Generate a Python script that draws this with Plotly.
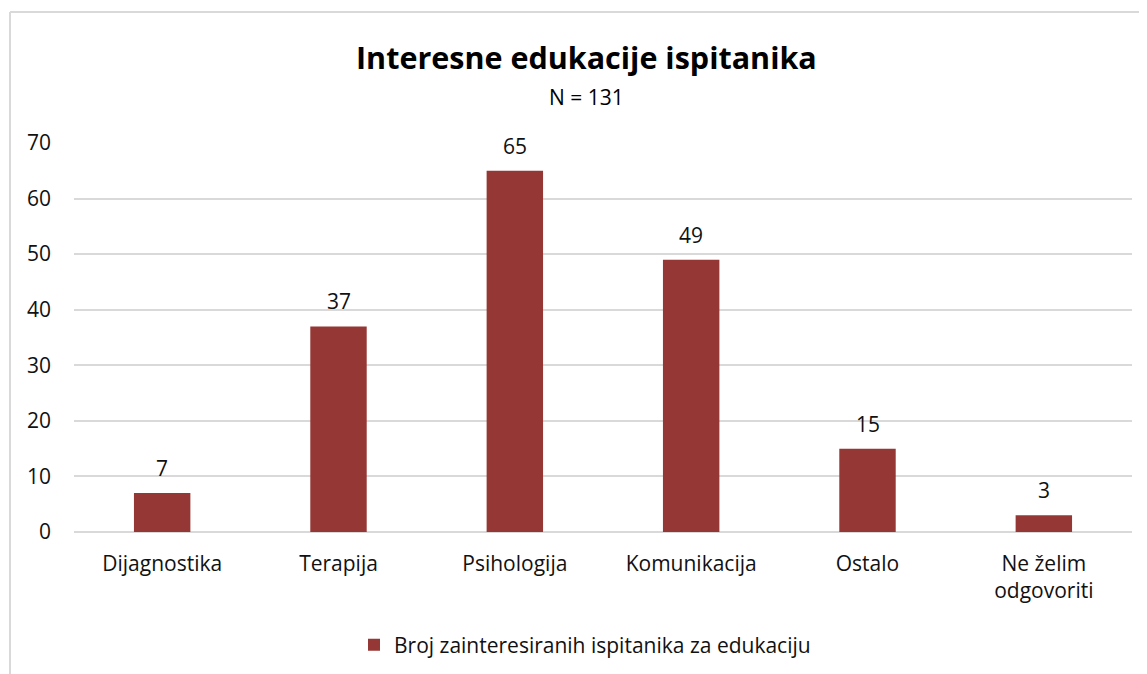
import plotly.graph_objects as go

categories = ["Dijagnostika", "Terapija", "Psihologija", "Komunikacija", "Ostalo", "Ne želim<br>odgovoriti"]
values = [7, 37, 65, 49, 15, 3]
series_name = "Broj zainteresiranih ispitanika za edukaciju"
title_text = "Interesne edukacije ispitanika"
subtitle_text = "N = 131"
y_ticks = [0, 10, 20, 30, 40, 50, 60, 70]

W, H = 1147, 674
OFF = 8  # page body margin offset
# target plot area in page pixels: x 74..1132, y 143..532
L = 74 - OFF
T = 143 - OFF
R = (W + OFF) - 1132
B = (H + OFF) - 532
pw, ph = W - L - R, H - T - B

def px_x(px):
    return (px - OFF - L) / pw

def px_y(py):
    return (H - B - (py - OFF)) / ph

FONT = "Open Sans"
FS = 21
bar_color = "#953735"

fig = go.Figure()
fig.add_trace(go.Bar(
    x=categories, y=values, name=series_name,
    marker=dict(color=bar_color, line=dict(width=0)),
    showlegend=True,
))

for c, v in zip(categories, values):
    fig.add_annotation(x=c, y=v, text=str(v), showarrow=False, xanchor="center",
                       yanchor="bottom", yshift=9,
                       font=dict(family=FONT, size=FS, color="#111111"))

fig.update_layout(
    width=W, height=H,
    margin=dict(l=L, r=R, t=T, b=B),
    paper_bgcolor="white", plot_bgcolor="white",
    bargap=0.68,
    font=dict(family=FONT, size=FS, color="#111111"),
    showlegend=True,
    legend=dict(orientation="h", x=px_x(585), xanchor="center", y=px_y(645), yanchor="middle",
                font=dict(family=FONT, size=FS, color="#111111"),
                itemsizing="constant", itemwidth=30),
    xaxis=dict(showgrid=False, showline=False, ticks="", tickfont=dict(size=FS),
               ticklabelstandoff=17),
    yaxis=dict(range=[0, 70], tickvals=y_ticks, showgrid=True, gridcolor="#d9d9d9",
               gridwidth=1.5, zeroline=True, zerolinecolor="#d9d9d9", zerolinewidth=1.5,
               showline=False, ticks="", tickfont=dict(size=FS), ticklabelstandoff=22),
)

fig.add_annotation(text="<b>" + title_text + "</b>", xref="paper", yref="paper",
                   x=px_x(586), y=px_y(57), xanchor="center", yanchor="middle",
                   showarrow=False, font=dict(family=FONT, size=30.5, color="#000000"))
fig.add_annotation(text=subtitle_text, xref="paper", yref="paper",
                   x=px_x(586), y=px_y(97), xanchor="center", yanchor="middle",
                   showarrow=False, font=dict(family=FONT, size=FS, color="#000000"))

# chart border (left and top)
fig.add_shape(type="line", xref="paper", yref="paper", x0=px_x(10), x1=px_x(10),
              y0=px_y(12), y1=px_y(700), line=dict(color="#d9d9d9", width=2))
fig.add_shape(type="line", xref="paper", yref="paper", x0=px_x(10), x1=px_x(1160),
              y0=px_y(12), y1=px_y(12), line=dict(color="#d9d9d9", width=2))

fig.write_html("out.html")
